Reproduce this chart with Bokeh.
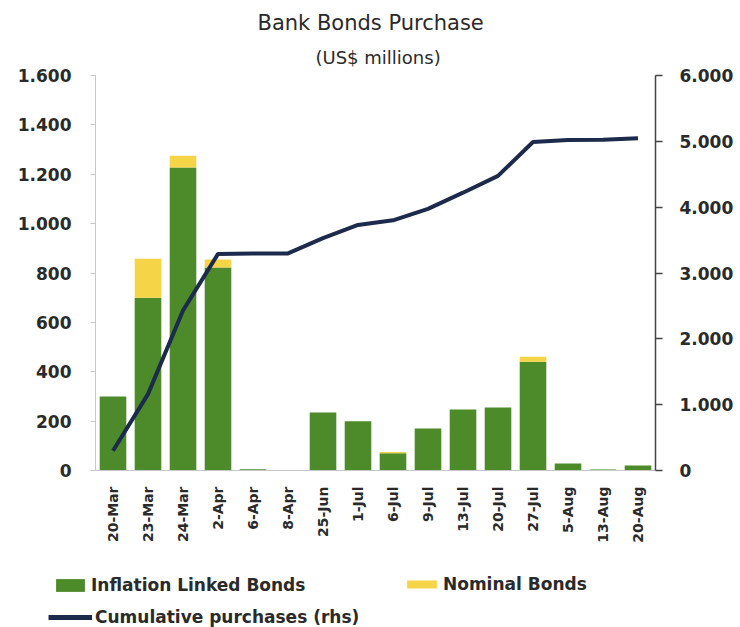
import math
from bokeh.plotting import figure
from bokeh.layouts import column, row
from bokeh.models import (Range1d, LinearAxis, FixedTicker, Legend, LegendItem,
                          Title, ColumnDataSource, FactorRange)
from bokeh.embed import file_html
from bokeh.resources import INLINE

categories = ["20-Mar", "23-Mar", "24-Mar", "2-Apr", "6-Apr", "8-Apr", "25-Jun",
              "1-Jul", "6-Jul", "9-Jul", "13-Jul", "20-Jul", "27-Jul", "5-Aug",
              "13-Aug", "20-Aug"]
inflation_linked = [300, 700, 1227, 822, 5, 2, 235, 200, 70, 170, 247, 255, 441, 28, 4, 20]
nominal = [0, 158, 48, 33, 0, 0, 0, 0, 5, 0, 0, 0, 20, 0, 0, 0]
cumulative = [300, 1160, 2430, 3290, 3295, 3297, 3530, 3730, 3800, 3975, 4220,
              4475, 4990, 5020, 5025, 5045]

left_ticks = [0, 200, 400, 600, 800, 1000, 1200, 1400, 1600]
left_labels = ["0", "200", "400", "600", "800", "1.000", "1.200", "1.400", "1.600"]
right_ticks = [0, 1000, 2000, 3000, 4000, 5000, 6000]
right_labels = ["0", "1.000", "2.000", "3.000", "4.000", "5.000", "6.000"]

GREEN = "#4d8a2a"
YELLOW = "#f6d447"
NAVY = "#1c2b4b"
FONT = "DejaVu Sans"
TEXT_COLOR = "#2a2a2a"

src = ColumnDataSource(dict(cat=categories, inflation=inflation_linked,
                            nominal=nominal, cum=cumulative))

p = figure(width=740, height=547, x_range=FactorRange(*categories, range_padding=0),
           y_range=Range1d(0, 1600), output_backend="svg", toolbar_location=None,
           min_border_left=95, min_border_right=85, min_border_top=75,
           min_border_bottom=77)
p.extra_y_ranges = {"rhs": Range1d(0, 6000)}
p.outline_line_color = None
p.xgrid.grid_line_color = None
p.ygrid.grid_line_color = None
p.background_fill_color = "white"
p.border_fill_color = "white"

bars = p.vbar_stack(["inflation", "nominal"], x="cat", width=0.76, source=src,
                    color=[GREEN, YELLOW], line_color=None)
line = p.line(x="cat", y="cum", source=src, y_range_name="rhs", line_color=NAVY,
              line_width=4)

# left axis
ya = p.yaxis[0]
ya.ticker = FixedTicker(ticks=left_ticks)
ya.major_label_overrides = {t: l for t, l in zip(left_ticks, left_labels)}
ya.axis_line_color = "#c8c8c8"
ya.major_tick_line_color = "#c8c8c8"
ya.major_tick_out = 5
ya.major_tick_in = 0
ya.minor_tick_line_color = None
ya.major_label_text_font = FONT
ya.major_label_text_font_size = "17px"
ya.major_label_text_font_style = "bold"
ya.major_label_text_color = TEXT_COLOR
ya.major_label_standoff = 19

# right axis
ra = LinearAxis(y_range_name="rhs")
ra.ticker = FixedTicker(ticks=right_ticks)
ra.major_label_overrides = {t: l for t, l in zip(right_ticks, right_labels)}
ra.axis_line_color = "#444444"
ra.axis_line_width = 1.5
ra.major_tick_line_color = "#444444"
ra.major_tick_line_width = 1.5
ra.major_tick_out = 7
ra.major_tick_in = 0
ra.minor_tick_line_color = None
ra.major_label_text_font = FONT
ra.major_label_text_font_size = "17px"
ra.major_label_text_font_style = "bold"
ra.major_label_text_color = TEXT_COLOR
ra.major_label_standoff = 17
p.add_layout(ra, "right")

# x axis
xa = p.xaxis[0]
xa.axis_line_color = "#c8c8c8"
xa.major_tick_line_color = None
xa.minor_tick_line_color = None
xa.major_label_orientation = math.pi / 2
xa.major_label_text_font = FONT
xa.major_label_text_font_size = "14px"
xa.major_label_text_font_style = "bold"
xa.major_label_text_color = TEXT_COLOR
xa.major_label_standoff = 10

# titles
p.title.text = "Bank Bonds Purchase"
p.title.align = "left"
p.title.offset = 162
p.title.standoff = 5
p.title.text_font = FONT
p.title.text_font_size = "21px"
p.title.text_font_style = "normal"
p.title.text_color = TEXT_COLOR
p.add_layout(Title(text="(US$ millions)", align="left", offset=220, standoff=15,
                   text_font=FONT, text_font_size="18px",
                   text_font_style="normal", text_color=TEXT_COLOR), "above")

# legend strip below the chart
lf = figure(width=740, height=80, x_range=Range1d(0, 740), y_range=Range1d(0, 80),
            output_backend="svg", toolbar_location=None, min_border=0,
            x_axis_type=None, y_axis_type=None)
lf.outline_line_color = None
lf.xgrid.grid_line_color = None
lf.ygrid.grid_line_color = None
lf.background_fill_color = "white"
lf.border_fill_color = "white"
offscreen = dict(x=[-1000, -1001], y=[-1000, -1001])
g_green = lf.rect(x="x", y="y", width=1, height=1, source=ColumnDataSource(offscreen),
                  fill_color=GREEN, line_color=None)
g_yellow = lf.rect(x="x", y="y", width=1, height=1, source=ColumnDataSource(offscreen),
                   fill_color=YELLOW, line_color=None)
g_line = lf.line(x="x", y="y", source=ColumnDataSource(offscreen), line_color=NAVY,
                 line_width=5)


def make_legend(label, renderer, loc, gw, gh):
    return Legend(items=[LegendItem(label=label, renderers=[renderer])], location=loc,
                  orientation="horizontal", padding=0, margin=0, spacing=0,
                  label_standoff=3, glyph_width=gw, glyph_height=gh, label_height=16,
                  border_line_color=None, background_fill_alpha=0,
                  label_text_font=FONT, label_text_font_size="17px",
                  label_text_font_style="bold", label_text_color=TEXT_COLOR)


lf.add_layout(make_legend("Inflation Linked Bonds", g_green, (52, 32), 36, 16), "center")
lf.add_layout(make_legend("Nominal Bonds", g_yellow, (403, 33), 37, 10), "center")
lf.add_layout(make_legend("Cumulative purchases (rhs)", g_line, (48, 0), 44, 16), "center")

open("out.html", "w").write(file_html(column(p, row(lf), spacing=0), INLINE))
